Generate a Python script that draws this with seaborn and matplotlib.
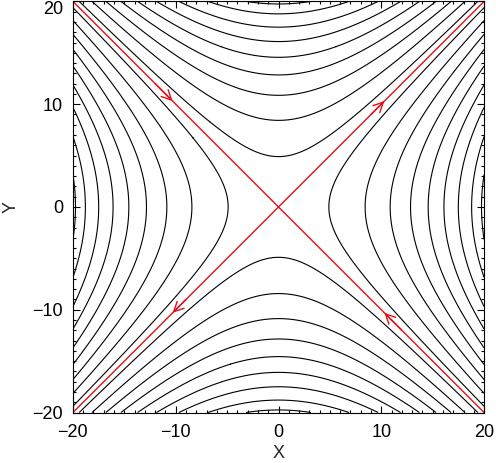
import numpy as np
import matplotlib
matplotlib.use("Agg")
import matplotlib.pyplot as plt
import seaborn as sns
from matplotlib.ticker import MultipleLocator

# contour levels of x^2 - y^2 (about 400/17 * odd numbers)
levels_pos = [24, 71, 118, 165, 212, 259, 306, 353, 390]
levels = sorted([-v for v in levels_pos] + levels_pos)

# separatrices (red lines)
sep_x = [-20, 20]
sep_up = [-20, 20]
sep_down = [20, -20]

# arrow heads on the separatrices: tip and the point they come from
arrow_tip_x = [-10.3, 10.3, -10.3, 10.3]
arrow_tip_y = [10.3, 10.3, -10.3, -10.3]
arrow_from_x = [-12.0, 9.0, -9.0, 12.0]
arrow_from_y = [12.0, 9.0, -9.0, -12.0]

ticks = [-20, -10, 0, 10, 20]

grid = np.linspace(-20, 20, 401)
X, Y = np.meshgrid(grid, grid)
Z = X**2 - Y**2

sns.set_style("ticks")
plt.rcParams["font.family"] = ["Liberation Sans", "DejaVu Sans"]

fig = plt.figure(figsize=(4.96, 4.63), dpi=100)
ax = fig.add_axes([0.147, 0.109, 0.829, 0.888])

ax.contour(X, Y, Z, levels=levels, colors="black", linewidths=0.8,
           linestyles="solid")

red = "#e01018"
sns.lineplot(x=sep_x, y=sep_up, color=red, lw=1.0, ax=ax)
sns.lineplot(x=sep_x, y=sep_down, color=red, lw=1.0, ax=ax)
for tx, ty, fx, fy in zip(arrow_tip_x, arrow_tip_y, arrow_from_x, arrow_from_y):
    ax.annotate("", xy=(tx, ty), xytext=(fx, fy),
                arrowprops=dict(arrowstyle="->,head_length=0.7,head_width=0.35",
                                color=red, lw=1.0, mutation_scale=10,
                                shrinkA=0, shrinkB=0))

ax.set_xlim(-20, 20)
ax.set_ylim(-20, 20)
ax.set_xticks(ticks)
ax.set_yticks(ticks)
ax.xaxis.set_minor_locator(MultipleLocator(1))
ax.yaxis.set_minor_locator(MultipleLocator(1))
ax.tick_params(which="both", direction="in", top=True, right=True,
               colors="black", labelsize=13)
ax.tick_params(axis="x", which="major", length=5, width=0.8, pad=8)
ax.tick_params(axis="y", which="major", length=5, width=0.8, pad=7)
ax.tick_params(which="minor", length=2.5, width=0.8)
for s in ax.spines.values():
    s.set_color("black")
    s.set_linewidth(0.8)

# the top y label sits just under the frame edge, as in the reference
top_lab = ax.get_yticklabels()[-1]
top_lab.set_verticalalignment("top")

ax.set_xlabel("X", fontsize=13, labelpad=3)
ax.set_ylabel("Y", fontsize=13, labelpad=9)

fig.savefig("out.png", dpi=100)
